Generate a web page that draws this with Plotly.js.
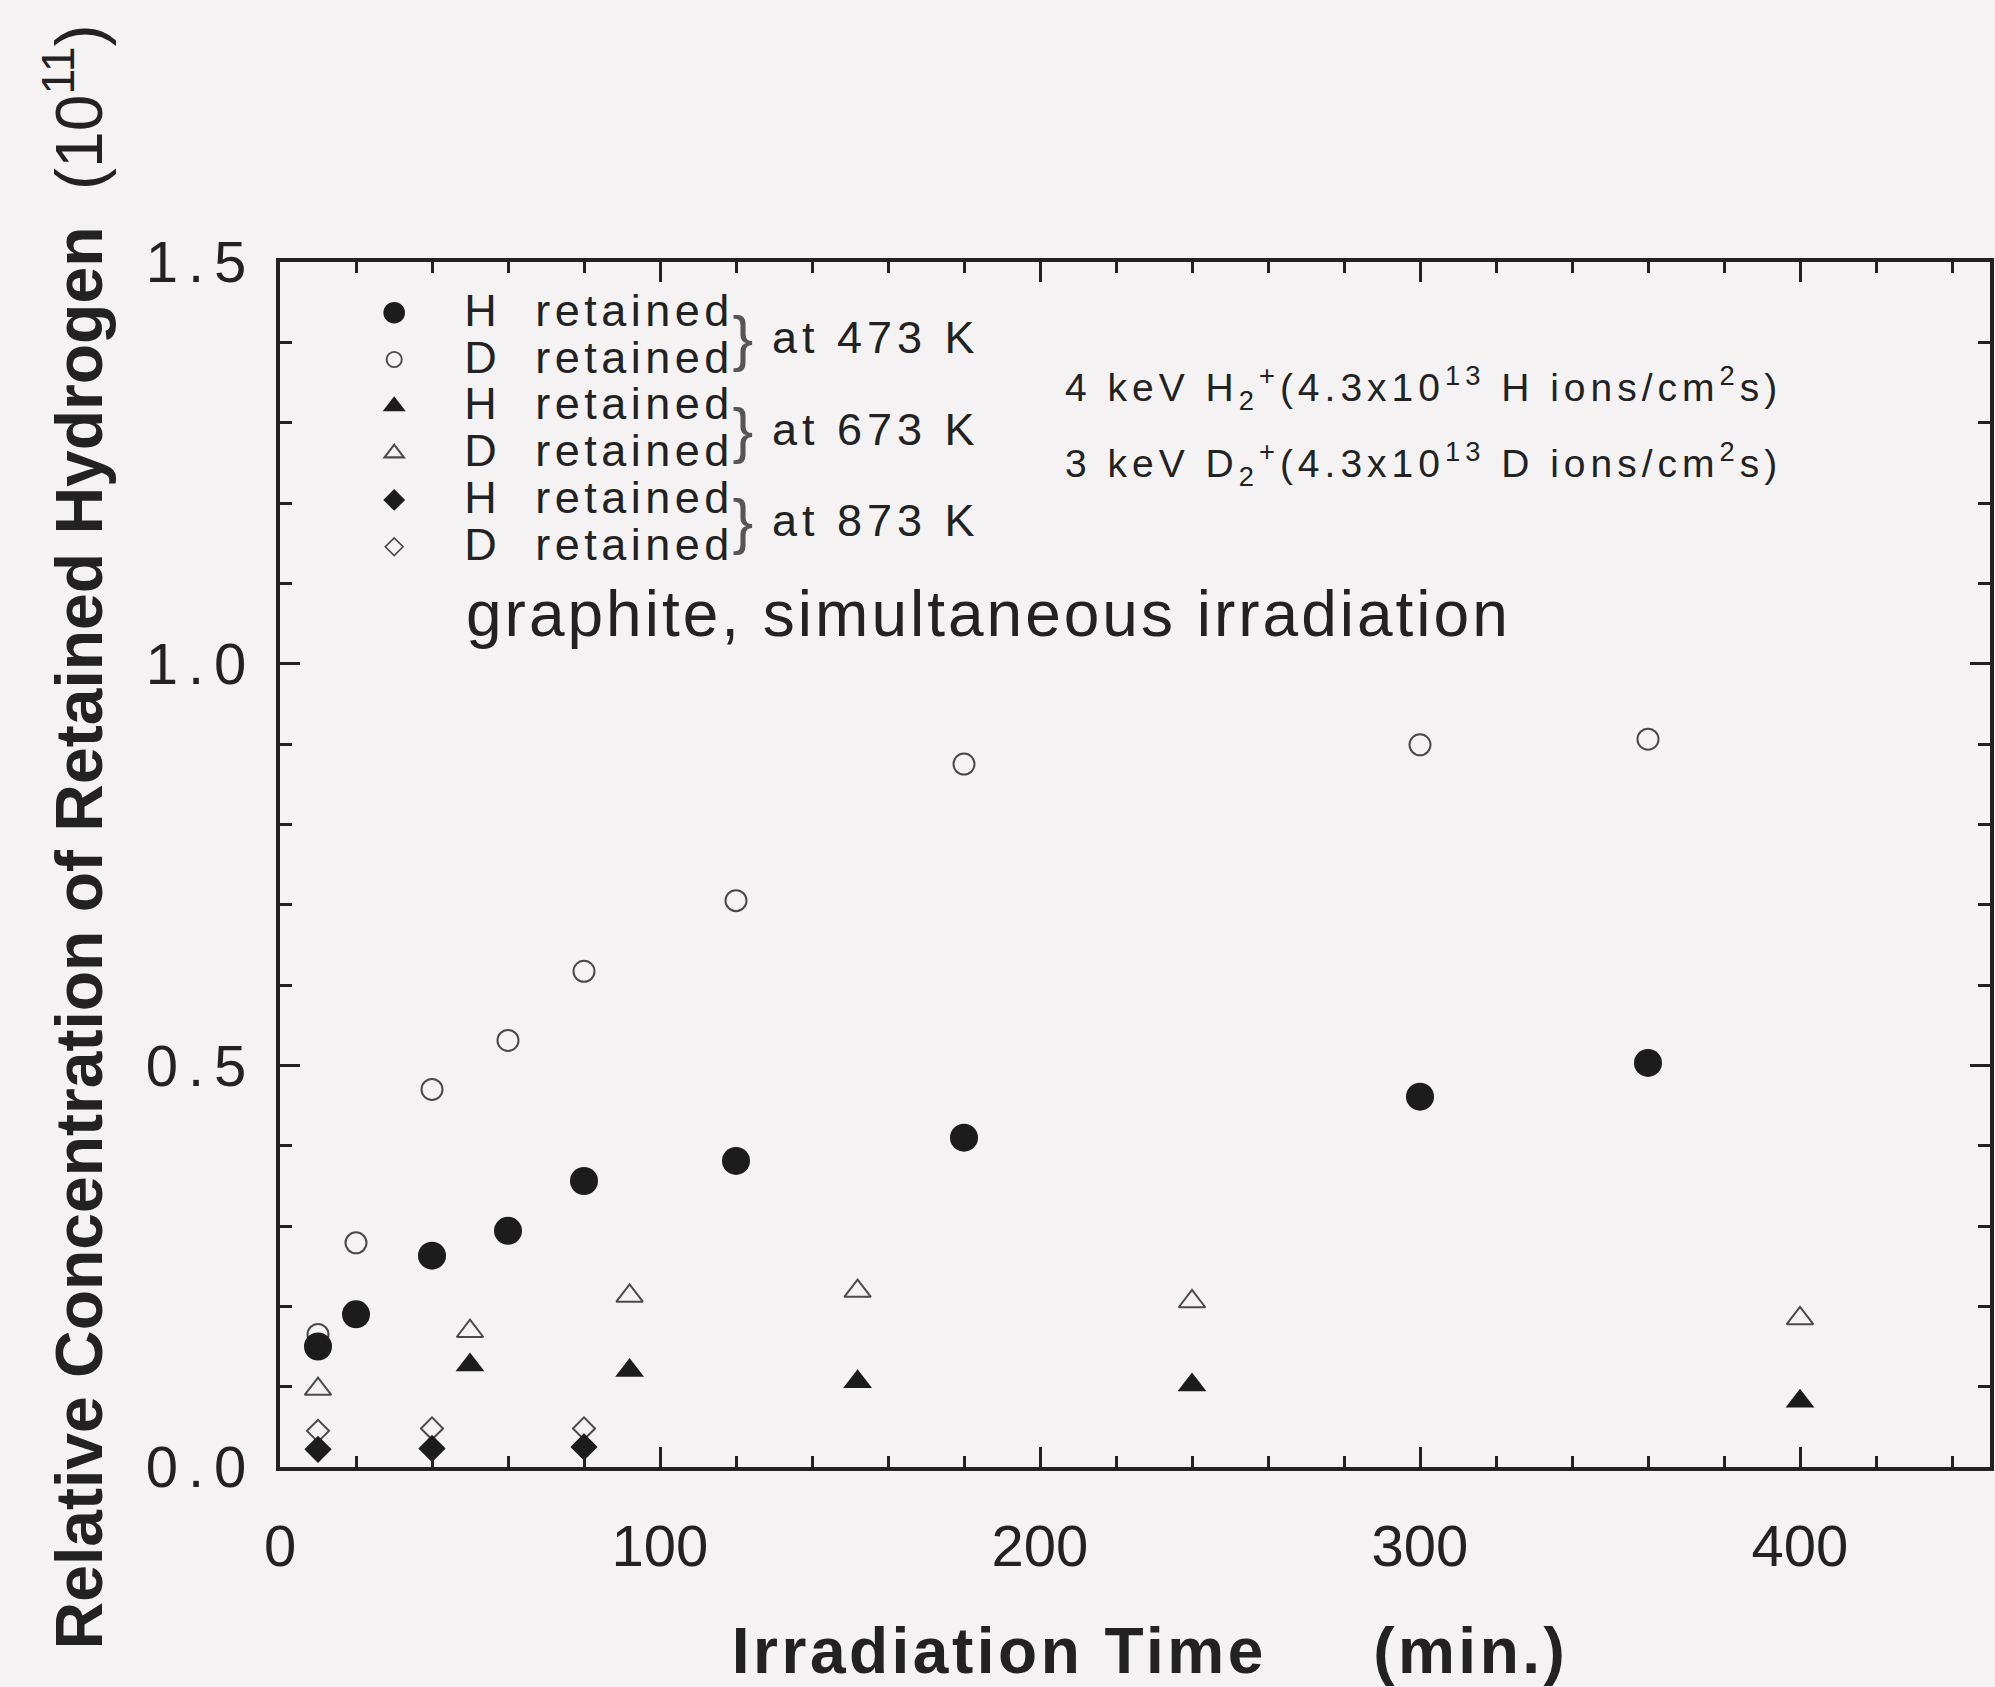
<!DOCTYPE html>
<html>
<head>
<meta charset="utf-8">
<script src="https://cdn.plot.ly/plotly-3.0.1.min.js"></script>
<style>
  html, body { margin: 0; padding: 0; background: #f4f2f3; }
  #chart { width: 1995px; height: 1687px; }
  .legendtext { font-size: 45px !important; letter-spacing: 4.5px; }
  .legend .traces:nth-child(1) .scatterpts { transform: translate(80px, 0px) scale(1.35); }
  .legend .traces:nth-child(2) .scatterpts { transform: translate(80px, 0px) scale(0.95); }
  .legend .traces:nth-child(3) .scatterpts { transform: translate(80px, 0px) scale(1.25); }
  .legend .traces:nth-child(4) .scatterpts { transform: translate(80px, 0px) scale(1.05); }
  .legend .traces:nth-child(5) .scatterpts { transform: translate(80px, 0px) scale(1.05); }
  .legend .traces:nth-child(6) .scatterpts { transform: translate(80px, 0px) scale(0.85); }
  .ytick text { letter-spacing: 10px; }
  g.annotation text.annotation-text { letter-spacing: 5px; }
  g.annotation[data-index="6"] text.annotation-text,
  g.annotation[data-index="7"] text.annotation-text { letter-spacing: 5px; }
  g.annotation[data-index="8"] text.annotation-text { letter-spacing: 3px; }
  .g-xtitle text { letter-spacing: 3.5px; }
</style>
</head>
<body>
<div id="chart"></div>
<script>
// ---- data ----
const timeH473 = [10, 20, 40, 60, 80, 120, 180, 300, 360];
const concH473 = [0.150, 0.190, 0.263, 0.294, 0.356, 0.381, 0.410, 0.461, 0.503];
const timeD473 = [10, 20, 40, 60, 80, 120, 180, 300, 360];
const concD473 = [0.165, 0.279, 0.470, 0.531, 0.617, 0.705, 0.875, 0.899, 0.906];
const timeH673 = [50, 92, 152, 240, 400];
const concH673 = [0.127, 0.120, 0.106, 0.102, 0.082];
const timeD673 = [10, 50, 92, 152, 240, 400];
const concD673 = [0.097, 0.169, 0.213, 0.219, 0.206, 0.185];
const timeH873 = [10, 40, 80];
const concH873 = [0.022, 0.023, 0.025];
const timeD873 = [10, 40, 80];
const concD873 = [0.045, 0.048, 0.048];

const seriesNames = ['H\u00A0\u00A0retained', 'D\u00A0\u00A0retained'];
const tempLabels = ['at 473 K', 'at 673 K', 'at 873 K'];
const beamLabels = [
  '4 keV H<sub>2</sub><sup>+</sup>(4.3x10<sup>13</sup> H ions/cm<sup>2</sup>s)',
  '3 keV D<sub>2</sub><sup>+</sup>(4.3x10<sup>13</sup> D ions/cm<sup>2</sup>s)'
];
const noteLabel = 'graphite, simultaneous irradiation';
const xTitle = '<span>\u00A0\u200A</span><b>Irradiation Time\u00A0\u00A0\u00A0\u00A0\u00A0(min.)</b>';
const yTitle = '<span>\u00A0\u00A0\u00A0</span><b>Relative Concentration of Retained Hydrogen</b>\u00A0\u00A0(10<sup>11</sup>)';

// ---- styling ----
const FONT = 'Liberation Sans, Arial, Helvetica, sans-serif';
const INK = '#222222';
const BG = '#f4f2f3';
const SOLID = '#1c1c1c';
const OPEN = '#4a4a4a';

function tr(x, y, name, symbol, size, rank, open) {
  return {
    x: x, y: y, name: name, type: 'scatter', mode: 'markers',
    legendrank: rank,
    marker: {
      symbol: symbol, size: size, color: open ? OPEN : SOLID,
      line: { width: open ? 2 : 0, color: OPEN }
    },
    hoverinfo: 'x+y'
  };
}

const data = [
  tr(timeD473, concD473, seriesNames[1], 'circle-open', 21, 2, true),
  tr(timeH473, concH473, seriesNames[0], 'circle', 28, 1, false),
  tr(timeD673, concD673, seriesNames[1], 'triangle-up-open', 23, 4, true),
  tr(timeH673, concH673, seriesNames[0], 'triangle-up', 25, 3, false),
  tr(timeD873, concD873, seriesNames[1], 'diamond-open', 17, 6, true),
  tr(timeH873, concH873, seriesNames[0], 'diamond', 21, 5, false)
];

const braceX = 122.5;
const tempX = 129;
const tempY = [1.406, 1.292, 1.178];
const annotations = [];
tempY.forEach(function (yy) {
  annotations.push({
    x: braceX, y: yy, xref: 'x', yref: 'y', text: '}', showarrow: false,
    xanchor: 'center', yanchor: 'middle',
    font: { family: FONT, size: 62, color: '#555' }
  });
});
tempLabels.forEach(function (t, i) {
  annotations.push({
    x: tempX, y: tempY[i], xref: 'x', yref: 'y', text: t, showarrow: false,
    xanchor: 'left', yanchor: 'middle', align: 'left',
    font: { family: FONT, size: 45, color: INK }
  });
});
const beamY = [1.343, 1.249];
beamLabels.forEach(function (t, i) {
  annotations.push({
    x: 206, y: beamY[i], xref: 'x', yref: 'y', text: t, showarrow: false,
    xanchor: 'left', yanchor: 'middle', align: 'left',
    font: { family: FONT, size: 39, color: INK }
  });
});
annotations.push({
  x: 48.5, y: 1.062, xref: 'x', yref: 'y', text: noteLabel, showarrow: false,
  xanchor: 'left', yanchor: 'middle', align: 'left',
  font: { family: FONT, size: 64, color: INK }
});

const layout = {
  width: 1995, height: 1687,
  margin: { l: 280, r: 5, t: 262, b: 220, pad: 0 },
  paper_bgcolor: BG, plot_bgcolor: BG,
  font: { family: FONT, color: INK },
  showlegend: true,
  legend: {
    x: 0.02, y: 0.9815, xanchor: 'left', yanchor: 'top',
    bgcolor: 'rgba(0,0,0,0)', borderwidth: 0,
    font: { family: FONT, size: 33.7, color: INK },
    itemwidth: 140, tracegroupgap: 0, traceorder: 'normal'
  },
  xaxis: {
    range: [0, 450], dtick: 100, tick0: 0,
    ticks: 'inside', ticklen: 20, tickwidth: 3, tickcolor: '#222',
    minor: { dtick: 20, ticks: 'inside', ticklen: 11, tickwidth: 3, tickcolor: '#222' },
    showline: true, linewidth: 4, linecolor: '#222', mirror: 'ticks',
    showgrid: false, zeroline: false,
    tickfont: { family: FONT, size: 58, color: INK },
    ticklabelstandoff: 25,
    title: { text: xTitle, font: { family: FONT, size: 64, color: INK }, standoff: 73 }
  },
  yaxis: {
    range: [0, 1.5], dtick: 0.5, tick0: 0, tickformat: '.1f',
    ticks: 'inside', ticklen: 20, tickwidth: 3, tickcolor: '#222',
    minor: { dtick: 0.1, ticks: 'inside', ticklen: 12, tickwidth: 3, tickcolor: '#222' },
    showline: true, linewidth: 4, linecolor: '#222', mirror: 'ticks',
    showgrid: false, zeroline: false,
    tickfont: { family: FONT, size: 58, color: INK },
    ticklabelstandoff: 8,
    title: { text: yTitle, font: { family: FONT, size: 66, color: INK }, standoff: 23 }
  },
  annotations: annotations
};

Plotly.newPlot('chart', data, layout, { displayModeBar: false, staticPlot: true });
</script>
</body>
</html>
